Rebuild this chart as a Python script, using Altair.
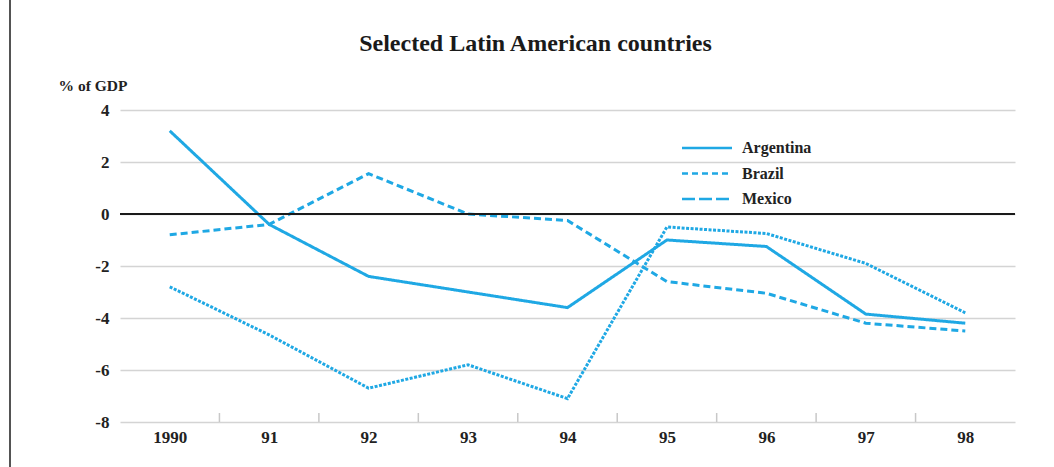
import altair as alt
import pandas as pd

# Current account balance, % of GDP
years = ["1990", "91", "92", "93", "94", "95", "96", "97", "98"]
countries = ["Argentina", "Brazil", "Mexico"]
argentina = [3.2, -0.4, -2.4, -3.0, -3.6, -1.0, -1.25, -3.85, -4.2]
brazil = [-0.8, -0.4, 1.55, 0.0, -0.25, -2.6, -3.05, -4.2, -4.5]
mexico = [-2.8, -4.65, -6.7, -5.8, -7.1, -0.5, -0.75, -1.9, -3.8]
y_ticks = [4, 2, 0, -2, -4, -6, -8]

BLUE = "#1fa8e4"
SERIF = "Liberation Serif"
W, H = 895, 312

rows = []
for name, vals in zip(countries, [argentina, brazil, mexico]):
    for i, (yr, v) in enumerate(zip(years, vals)):
        rows.append({"idx": i, "year": yr, "country": name, "value": v})
df = pd.DataFrame(rows)

bounds = pd.DataFrame({"b": [i + 0.5 for i in range(len(years) - 1)]})
legend_df = pd.DataFrame({"country": countries})

label_js = "[" + ",".join(f"'{y}'" for y in years) + "][datum.value]"

x_scale = alt.Scale(domain=[-0.5, len(years) - 0.5], nice=False, zero=False)
y_scale = alt.Scale(domain=[-8, 4], nice=False, zero=False)

x_enc = alt.X(
    "idx:Q",
    scale=x_scale,
    axis=alt.Axis(
        values=list(range(len(years))),
        labelExpr=label_js,
        ticks=False,
        domain=False,
        grid=False,
        title=None,
        labelFont=SERIF,
        labelFontSize=17,
        labelFontWeight="bold",
        labelColor="#222222",
        labelPadding=7,
    ),
)
y_enc = alt.Y(
    "value:Q",
    scale=y_scale,
    axis=alt.Axis(
        values=y_ticks,
        labelExpr="datum.value + ''",
        ticks=False,
        tickSize=0,
        domain=False,
        grid=True,
        gridColor="#d4d4d4",
        gridWidth=1.5,
        labelFont=SERIF,
        labelFontSize=17,
        labelFontWeight="bold",
        labelColor="#222222",
        labelPadding=11,
        title="% of GDP",
        titleAngle=0,
        titleX=-62,
        titleY=-25,
        titleAlign="left",
        titleBaseline="middle",
        titleFont=SERIF,
        titleFontSize=15.5,
        titleFontWeight="bold",
        titleColor="#222222",
    ),
)

lines = alt.Chart(df).mark_line(color=BLUE, strokeWidth=3).encode(
    x=x_enc,
    y=y_enc,
    detail="country:N",
    strokeDash=alt.StrokeDash(
        "country:N",
        scale=alt.Scale(domain=countries, range=[[1, 0], [7, 4], [3, 1.5]]),
        legend=None,
    ),
    strokeWidth=alt.StrokeWidth(
        "country:N",
        scale=alt.Scale(domain=countries, range=[3, 3.2, 2.4]),
        legend=None,
    ),
)

zero = alt.Chart(df).mark_rule(color="#1a1a1a", strokeWidth=2).encode(
    y=alt.datum(0)
)

ticks = alt.Chart(bounds).mark_rule(color="#c8c8c8", strokeWidth=1.5).encode(
    x=alt.X("b:Q", scale=x_scale),
    y=alt.value(H),
    y2=alt.value(H - 9),
)

frame_line = alt.Chart(bounds).mark_rule(color="#555555", strokeWidth=1.5).encode(
    x=alt.value(-110),
    y=alt.value(-110),
    y2=alt.value(H + 45),
)

legend_y = alt.Y(
    "country:N",
    scale=alt.Scale(type="point", domain=countries, range=[38, 89], padding=0),
    axis=None,
)
legend_lines = alt.Chart(legend_df).mark_rule(color=BLUE, strokeWidth=2.5).encode(
    x=alt.value(562),
    x2=alt.value(612),
    y=legend_y,
    strokeDash=alt.StrokeDash(
        "country:N",
        scale=alt.Scale(domain=countries, range=[[1, 0], [6, 4], [13, 4]]),
        legend=None,
    ),
)
legend_text = alt.Chart(legend_df).mark_text(
    align="left", baseline="middle", font=SERIF, fontSize=16,
    fontWeight="bold", color="#222222"
).encode(
    x=alt.value(622),
    y=legend_y,
    text="country:N",
)

main = alt.layer(lines, zero, ticks, frame_line)
legend = alt.layer(legend_lines, legend_text)

chart = (
    alt.layer(main, legend)
    .resolve_scale(y="independent", strokeDash="independent")
    .properties(
        width=W,
        height=H,
        padding={"left": 120, "top": 110, "right": 39, "bottom": 45},
        autosize=alt.AutoSizeParams(type="none"),
        title=alt.TitleParams(
            "Selected Latin American countries",
            font=SERIF,
            fontSize=24,
            fontWeight="bold",
            color="#1a1a1a",
            anchor="middle",
            frame="group",
            baseline="alphabetic",
            dx=-32,
            dy=76,
            offset=0,
        ),
    )
    .configure_view(stroke=None)
)

chart.save("out.html", embed_options={"renderer": "svg", "actions": False})
